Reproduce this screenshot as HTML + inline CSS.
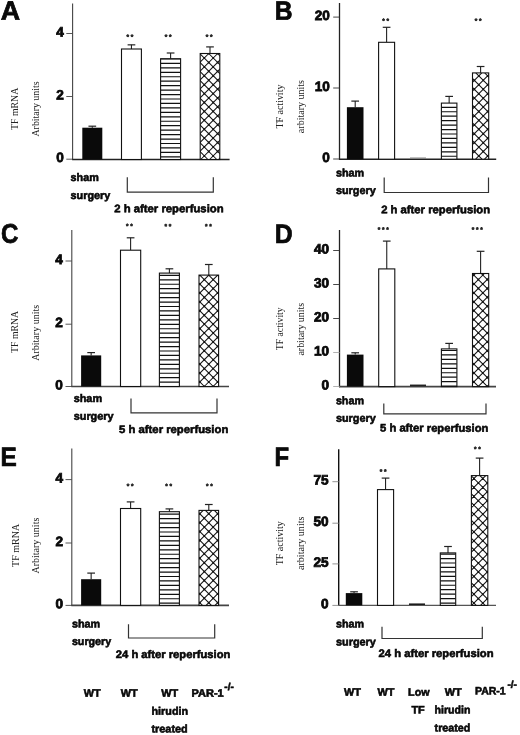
<!DOCTYPE html>
<html><head><meta charset="utf-8"><title>Figure</title>
<style>html,body{margin:0;padding:0;background:#fff}svg{display:block}</style>
</head><body>
<svg width="520" height="735" viewBox="0 0 520 735">
<defs>

<clipPath id="c1"><rect x="160.6" y="58.7" width="20" height="100.8"/></clipPath>
<clipPath id="c2"><rect x="200.2" y="53.5" width="19.6" height="106"/></clipPath>
<clipPath id="c3"><rect x="441.4" y="103.1" width="15.5" height="56.1"/></clipPath>
<clipPath id="c4"><rect x="472.5" y="72.9" width="16.2" height="86.3"/></clipPath>
<clipPath id="c5"><rect x="159.4" y="273.1" width="20" height="113.4"/></clipPath>
<clipPath id="c6"><rect x="199" y="275.1" width="19.6" height="111.4"/></clipPath>
<clipPath id="c7"><rect x="441.4" y="348.9" width="15.5" height="37.7"/></clipPath>
<clipPath id="c8"><rect x="472.5" y="273.5" width="16.2" height="113.1"/></clipPath>
<clipPath id="c9"><rect x="159.4" y="511.7" width="20" height="93.7"/></clipPath>
<clipPath id="c10"><rect x="199" y="510.4" width="19.6" height="95"/></clipPath>
<clipPath id="c11"><rect x="440.3" y="552.9" width="15.4" height="52.5"/></clipPath>
<clipPath id="c12"><rect x="471.4" y="475.6" width="16.4" height="129.8"/></clipPath>
</defs>
<rect width="520" height="735" fill="#fff"/>
<g fill="#0a0a0a" >
<text x="0.8" y="19.8" transform="rotate(0.04 0.8 19.8)" font-size="26.8" text-anchor="start" font-weight="bold" font-family="Liberation Sans, sans-serif" stroke="#000" stroke-width="0.7"  >A</text>
<line x1="72.6" y1="3.4" x2="72.6" y2="160.1" stroke="#444" stroke-width="1.1"/>
<line x1="72.1" y1="159.5" x2="229.6" y2="159.5" stroke="#222" stroke-width="1.5"/>
<line x1="66.3" y1="33.5" x2="72.6" y2="33.5" stroke="#444" stroke-width="0.9"/>
<text x="63.8" y="36.4" transform="rotate(0.04 63.8 36.4)" font-size="13.6" text-anchor="end" font-weight="bold" font-family="Liberation Sans, sans-serif" stroke="#000" stroke-width="0.75"  >4</text>
<line x1="66.3" y1="96.5" x2="72.6" y2="96.5" stroke="#444" stroke-width="0.9"/>
<text x="63.8" y="99.4" transform="rotate(0.04 63.8 99.4)" font-size="13.6" text-anchor="end" font-weight="bold" font-family="Liberation Sans, sans-serif" stroke="#000" stroke-width="0.75"  >2</text>
<line x1="66.3" y1="159.2" x2="72.6" y2="159.2" stroke="#444" stroke-width="0.9"/>
<text x="63.8" y="162.1" transform="rotate(0.04 63.8 162.1)" font-size="13.6" text-anchor="end" font-weight="bold" font-family="Liberation Sans, sans-serif" stroke="#000" stroke-width="0.75"  >0</text>
<line x1="92.3" y1="127.7" x2="92.3" y2="126.2" stroke="#222" stroke-width="1.1"/>
<line x1="88.45" y1="126.2" x2="96.15" y2="126.2" stroke="#222" stroke-width="1.2"/>
<rect x="82.3" y="127.7" width="20" height="31.8" fill="#0a0a0a"/>
<line x1="131.45" y1="49" x2="131.45" y2="44.85" stroke="#222" stroke-width="1.1"/>
<line x1="127.6" y1="44.85" x2="135.3" y2="44.85" stroke="#222" stroke-width="1.2"/>
<rect x="121.5" y="49" width="19.9" height="110.5" fill="#fff" stroke="#111" stroke-width="1.1"/>
<line x1="170.6" y1="58.7" x2="170.6" y2="53" stroke="#222" stroke-width="1.1"/>
<line x1="166.75" y1="53" x2="174.45" y2="53" stroke="#222" stroke-width="1.2"/>
<rect x="160.6" y="58.7" width="20" height="100.8" fill="#fff" stroke="#111" stroke-width="1.1"/>
<path clip-path="url(#c1)" d="M160.6,58.95H180.6M160.6,63.4H180.6M160.6,67.85H180.6M160.6,72.3H180.6M160.6,76.75H180.6M160.6,81.2H180.6M160.6,85.65H180.6M160.6,90.1H180.6M160.6,94.55H180.6M160.6,99H180.6M160.6,103.45H180.6M160.6,107.9H180.6M160.6,112.35H180.6M160.6,116.8H180.6M160.6,121.25H180.6M160.6,125.7H180.6M160.6,130.15H180.6M160.6,134.6H180.6M160.6,139.05H180.6M160.6,143.5H180.6M160.6,147.95H180.6M160.6,152.4H180.6M160.6,156.85H180.6" stroke="#111" stroke-width="1.2" fill="none"/>
<line x1="210" y1="53.5" x2="210" y2="46.9" stroke="#222" stroke-width="1.1"/>
<line x1="206.15" y1="46.9" x2="213.85" y2="46.9" stroke="#222" stroke-width="1.2"/>
<rect x="200.2" y="53.5" width="19.6" height="106" fill="#fff" stroke="#111" stroke-width="1.1"/>
<path clip-path="url(#c2)" d="M93,53.5L199,159.5M101.9,53.5L207.9,159.5M110.8,53.5L216.8,159.5M119.7,53.5L225.7,159.5M128.6,53.5L234.6,159.5M137.5,53.5L243.5,159.5M146.4,53.5L252.4,159.5M155.3,53.5L261.3,159.5M164.2,53.5L270.2,159.5M173.1,53.5L279.1,159.5M182,53.5L288,159.5M190.9,53.5L296.9,159.5M199.8,53.5L305.8,159.5M208.7,53.5L314.7,159.5M217.6,53.5L323.6,159.5M226.5,53.5L332.5,159.5M199.9,53.5L93.9,159.5M208.8,53.5L102.8,159.5M217.7,53.5L111.7,159.5M226.6,53.5L120.6,159.5M235.5,53.5L129.5,159.5M244.4,53.5L138.4,159.5M253.3,53.5L147.3,159.5M262.2,53.5L156.2,159.5M271.1,53.5L165.1,159.5M280,53.5L174,159.5M288.9,53.5L182.9,159.5M297.8,53.5L191.8,159.5M306.7,53.5L200.7,159.5M315.6,53.5L209.6,159.5M324.5,53.5L218.5,159.5M333.4,53.5L227.4,159.5" stroke="#111" stroke-width="1.05" fill="none"/>
<path clip-path="url(#c2)" d="M198.9,53.55a0.95,0.95 0 1,0 1.9,0a0.95,0.95 0 1,0 -1.9,0M198.9,62.45a0.95,0.95 0 1,0 1.9,0a0.95,0.95 0 1,0 -1.9,0M198.9,71.35a0.95,0.95 0 1,0 1.9,0a0.95,0.95 0 1,0 -1.9,0M198.9,80.25a0.95,0.95 0 1,0 1.9,0a0.95,0.95 0 1,0 -1.9,0M198.9,89.15a0.95,0.95 0 1,0 1.9,0a0.95,0.95 0 1,0 -1.9,0M198.9,98.05a0.95,0.95 0 1,0 1.9,0a0.95,0.95 0 1,0 -1.9,0M198.9,106.95a0.95,0.95 0 1,0 1.9,0a0.95,0.95 0 1,0 -1.9,0M198.9,115.85a0.95,0.95 0 1,0 1.9,0a0.95,0.95 0 1,0 -1.9,0M198.9,124.75a0.95,0.95 0 1,0 1.9,0a0.95,0.95 0 1,0 -1.9,0M198.9,133.65a0.95,0.95 0 1,0 1.9,0a0.95,0.95 0 1,0 -1.9,0M198.9,142.55a0.95,0.95 0 1,0 1.9,0a0.95,0.95 0 1,0 -1.9,0M198.9,151.45a0.95,0.95 0 1,0 1.9,0a0.95,0.95 0 1,0 -1.9,0M203.35,58a0.95,0.95 0 1,0 1.9,0a0.95,0.95 0 1,0 -1.9,0M203.35,66.9a0.95,0.95 0 1,0 1.9,0a0.95,0.95 0 1,0 -1.9,0M203.35,75.8a0.95,0.95 0 1,0 1.9,0a0.95,0.95 0 1,0 -1.9,0M203.35,84.7a0.95,0.95 0 1,0 1.9,0a0.95,0.95 0 1,0 -1.9,0M203.35,93.6a0.95,0.95 0 1,0 1.9,0a0.95,0.95 0 1,0 -1.9,0M203.35,102.5a0.95,0.95 0 1,0 1.9,0a0.95,0.95 0 1,0 -1.9,0M203.35,111.4a0.95,0.95 0 1,0 1.9,0a0.95,0.95 0 1,0 -1.9,0M203.35,120.3a0.95,0.95 0 1,0 1.9,0a0.95,0.95 0 1,0 -1.9,0M203.35,129.2a0.95,0.95 0 1,0 1.9,0a0.95,0.95 0 1,0 -1.9,0M203.35,138.1a0.95,0.95 0 1,0 1.9,0a0.95,0.95 0 1,0 -1.9,0M203.35,147a0.95,0.95 0 1,0 1.9,0a0.95,0.95 0 1,0 -1.9,0M203.35,155.9a0.95,0.95 0 1,0 1.9,0a0.95,0.95 0 1,0 -1.9,0M207.8,53.55a0.95,0.95 0 1,0 1.9,0a0.95,0.95 0 1,0 -1.9,0M207.8,62.45a0.95,0.95 0 1,0 1.9,0a0.95,0.95 0 1,0 -1.9,0M207.8,71.35a0.95,0.95 0 1,0 1.9,0a0.95,0.95 0 1,0 -1.9,0M207.8,80.25a0.95,0.95 0 1,0 1.9,0a0.95,0.95 0 1,0 -1.9,0M207.8,89.15a0.95,0.95 0 1,0 1.9,0a0.95,0.95 0 1,0 -1.9,0M207.8,98.05a0.95,0.95 0 1,0 1.9,0a0.95,0.95 0 1,0 -1.9,0M207.8,106.95a0.95,0.95 0 1,0 1.9,0a0.95,0.95 0 1,0 -1.9,0M207.8,115.85a0.95,0.95 0 1,0 1.9,0a0.95,0.95 0 1,0 -1.9,0M207.8,124.75a0.95,0.95 0 1,0 1.9,0a0.95,0.95 0 1,0 -1.9,0M207.8,133.65a0.95,0.95 0 1,0 1.9,0a0.95,0.95 0 1,0 -1.9,0M207.8,142.55a0.95,0.95 0 1,0 1.9,0a0.95,0.95 0 1,0 -1.9,0M207.8,151.45a0.95,0.95 0 1,0 1.9,0a0.95,0.95 0 1,0 -1.9,0M212.25,58a0.95,0.95 0 1,0 1.9,0a0.95,0.95 0 1,0 -1.9,0M212.25,66.9a0.95,0.95 0 1,0 1.9,0a0.95,0.95 0 1,0 -1.9,0M212.25,75.8a0.95,0.95 0 1,0 1.9,0a0.95,0.95 0 1,0 -1.9,0M212.25,84.7a0.95,0.95 0 1,0 1.9,0a0.95,0.95 0 1,0 -1.9,0M212.25,93.6a0.95,0.95 0 1,0 1.9,0a0.95,0.95 0 1,0 -1.9,0M212.25,102.5a0.95,0.95 0 1,0 1.9,0a0.95,0.95 0 1,0 -1.9,0M212.25,111.4a0.95,0.95 0 1,0 1.9,0a0.95,0.95 0 1,0 -1.9,0M212.25,120.3a0.95,0.95 0 1,0 1.9,0a0.95,0.95 0 1,0 -1.9,0M212.25,129.2a0.95,0.95 0 1,0 1.9,0a0.95,0.95 0 1,0 -1.9,0M212.25,138.1a0.95,0.95 0 1,0 1.9,0a0.95,0.95 0 1,0 -1.9,0M212.25,147a0.95,0.95 0 1,0 1.9,0a0.95,0.95 0 1,0 -1.9,0M212.25,155.9a0.95,0.95 0 1,0 1.9,0a0.95,0.95 0 1,0 -1.9,0M216.7,53.55a0.95,0.95 0 1,0 1.9,0a0.95,0.95 0 1,0 -1.9,0M216.7,62.45a0.95,0.95 0 1,0 1.9,0a0.95,0.95 0 1,0 -1.9,0M216.7,71.35a0.95,0.95 0 1,0 1.9,0a0.95,0.95 0 1,0 -1.9,0M216.7,80.25a0.95,0.95 0 1,0 1.9,0a0.95,0.95 0 1,0 -1.9,0M216.7,89.15a0.95,0.95 0 1,0 1.9,0a0.95,0.95 0 1,0 -1.9,0M216.7,98.05a0.95,0.95 0 1,0 1.9,0a0.95,0.95 0 1,0 -1.9,0M216.7,106.95a0.95,0.95 0 1,0 1.9,0a0.95,0.95 0 1,0 -1.9,0M216.7,115.85a0.95,0.95 0 1,0 1.9,0a0.95,0.95 0 1,0 -1.9,0M216.7,124.75a0.95,0.95 0 1,0 1.9,0a0.95,0.95 0 1,0 -1.9,0M216.7,133.65a0.95,0.95 0 1,0 1.9,0a0.95,0.95 0 1,0 -1.9,0M216.7,142.55a0.95,0.95 0 1,0 1.9,0a0.95,0.95 0 1,0 -1.9,0M216.7,151.45a0.95,0.95 0 1,0 1.9,0a0.95,0.95 0 1,0 -1.9,0" fill="#111"/>
<text x="130.88" y="39.05" transform="rotate(0.04 130.88 39.05)" font-size="6.5" text-anchor="middle" font-weight="bold" font-family="Liberation Sans, sans-serif" fill="#222" stroke="#222" stroke-width="0.5" letter-spacing="1.75">**</text>
<text x="169.07" y="38.95" transform="rotate(0.04 169.07 38.95)" font-size="6.5" text-anchor="middle" font-weight="bold" font-family="Liberation Sans, sans-serif" fill="#222" stroke="#222" stroke-width="0.5" letter-spacing="1.75">**</text>
<text x="210.07" y="38.95" transform="rotate(0.04 210.07 38.95)" font-size="6.5" text-anchor="middle" font-weight="bold" font-family="Liberation Sans, sans-serif" fill="#222" stroke="#222" stroke-width="0.5" letter-spacing="1.75">**</text>
<text x="70.6" y="180.9" transform="rotate(0.04 70.6 180.9)" font-size="10.9" text-anchor="start" font-weight="bold" font-family="Liberation Sans, sans-serif" stroke="#000" stroke-width="0.55" textLength="28.2" lengthAdjust="spacingAndGlyphs" >sham</text>
<text x="70.6" y="198.9" transform="rotate(0.04 70.6 198.9)" font-size="10.9" text-anchor="start" font-weight="bold" font-family="Liberation Sans, sans-serif" stroke="#000" stroke-width="0.55" textLength="39.7" lengthAdjust="spacingAndGlyphs" >surgery</text>
<polyline points="127.3,177.3 127.3,192.2 213.3,192.2 213.3,177.3" fill="none" stroke="#333" stroke-width="1.2"/>
<text x="114.3" y="212.3" transform="rotate(0.04 114.3 212.3)" font-size="10.9" text-anchor="start" font-weight="bold" font-family="Liberation Sans, sans-serif" stroke="#000" stroke-width="0.55" textLength="109.3" lengthAdjust="spacingAndGlyphs" >2 h after reperfusion</text>
<text transform="translate(17.8,108.9) rotate(-90)" font-size="9.9" text-anchor="middle" font-family="Liberation Serif, serif" fill="#222" textLength="42.3" lengthAdjust="spacingAndGlyphs">TF mRNA</text>
<text transform="translate(38.5,109) rotate(-90)" font-size="9.9" text-anchor="middle" font-family="Liberation Serif, serif" fill="#222" textLength="55" lengthAdjust="spacingAndGlyphs">Arbitary units</text>
<text x="274.7" y="19.8" transform="rotate(0.04 274.7 19.8)" font-size="26.5" text-anchor="start" font-weight="bold" font-family="Liberation Sans, sans-serif" stroke="#000" stroke-width="0.7" textLength="17.8" lengthAdjust="spacingAndGlyphs" >B</text>
<line x1="339.5" y1="3" x2="339.5" y2="159.8" stroke="#222" stroke-width="1.3"/>
<line x1="339" y1="159.2" x2="496.2" y2="159.2" stroke="#222" stroke-width="1.5"/>
<line x1="333.2" y1="17.1" x2="339.5" y2="17.1" stroke="#333" stroke-width="0.9"/>
<text x="329.9" y="20" transform="rotate(0.04 329.9 20)" font-size="13.6" text-anchor="end" font-weight="bold" font-family="Liberation Sans, sans-serif" stroke="#000" stroke-width="0.75"  >20</text>
<line x1="333.2" y1="88" x2="339.5" y2="88" stroke="#333" stroke-width="0.9"/>
<text x="329.9" y="90.9" transform="rotate(0.04 329.9 90.9)" font-size="13.6" text-anchor="end" font-weight="bold" font-family="Liberation Sans, sans-serif" stroke="#000" stroke-width="0.75"  >10</text>
<line x1="333.2" y1="159" x2="339.5" y2="159" stroke="#333" stroke-width="0.9"/>
<text x="329.9" y="161.9" transform="rotate(0.04 329.9 161.9)" font-size="13.6" text-anchor="end" font-weight="bold" font-family="Liberation Sans, sans-serif" stroke="#000" stroke-width="0.75"  >0</text>
<line x1="355.2" y1="107.2" x2="355.2" y2="101.1" stroke="#222" stroke-width="1.1"/>
<line x1="351.35" y1="101.1" x2="359.05" y2="101.1" stroke="#222" stroke-width="1.2"/>
<rect x="346.9" y="107.2" width="16.6" height="52" fill="#0a0a0a"/>
<line x1="386.6" y1="42.3" x2="386.6" y2="27.3" stroke="#222" stroke-width="1.1"/>
<line x1="382.75" y1="27.3" x2="390.45" y2="27.3" stroke="#222" stroke-width="1.2"/>
<rect x="378.6" y="42.3" width="16" height="116.9" fill="#fff" stroke="#111" stroke-width="1.1"/>
<line x1="410" y1="158" x2="426" y2="158" stroke="#777" stroke-width="0.9"/>
<line x1="449.15" y1="103.1" x2="449.15" y2="96.4" stroke="#222" stroke-width="1.1"/>
<line x1="445.3" y1="96.4" x2="453" y2="96.4" stroke="#222" stroke-width="1.2"/>
<rect x="441.4" y="103.1" width="15.5" height="56.1" fill="#fff" stroke="#111" stroke-width="1.1"/>
<path clip-path="url(#c3)" d="M441.4,107.3H456.9M441.4,111.75H456.9M441.4,116.2H456.9M441.4,120.65H456.9M441.4,125.1H456.9M441.4,129.55H456.9M441.4,134H456.9M441.4,138.45H456.9M441.4,142.9H456.9M441.4,147.35H456.9M441.4,151.8H456.9M441.4,156.25H456.9" stroke="#111" stroke-width="1.2" fill="none"/>
<line x1="480.6" y1="72.9" x2="480.6" y2="66.5" stroke="#222" stroke-width="1.1"/>
<line x1="476.75" y1="66.5" x2="484.45" y2="66.5" stroke="#222" stroke-width="1.2"/>
<rect x="472.5" y="72.9" width="16.2" height="86.3" fill="#fff" stroke="#111" stroke-width="1.1"/>
<path clip-path="url(#c4)" d="M377.9,72.9L464.2,159.2M386.8,72.9L473.1,159.2M395.7,72.9L482,159.2M404.6,72.9L490.9,159.2M413.5,72.9L499.8,159.2M422.4,72.9L508.7,159.2M431.3,72.9L517.6,159.2M440.2,72.9L526.5,159.2M449.1,72.9L535.4,159.2M458,72.9L544.3,159.2M466.9,72.9L553.2,159.2M475.8,72.9L562.1,159.2M484.7,72.9L571,159.2M493.6,72.9L579.9,159.2M464,72.9L377.7,159.2M472.9,72.9L386.6,159.2M481.8,72.9L395.5,159.2M490.7,72.9L404.4,159.2M499.6,72.9L413.3,159.2M508.5,72.9L422.2,159.2M517.4,72.9L431.1,159.2M526.3,72.9L440,159.2M535.2,72.9L448.9,159.2M544.1,72.9L457.8,159.2M553,72.9L466.7,159.2M561.9,72.9L475.6,159.2M570.8,72.9L484.5,159.2M579.7,72.9L493.4,159.2" stroke="#111" stroke-width="1.05" fill="none"/>
<path clip-path="url(#c4)" d="M473.4,80.35a0.95,0.95 0 1,0 1.9,0a0.95,0.95 0 1,0 -1.9,0M473.4,89.25a0.95,0.95 0 1,0 1.9,0a0.95,0.95 0 1,0 -1.9,0M473.4,98.15a0.95,0.95 0 1,0 1.9,0a0.95,0.95 0 1,0 -1.9,0M473.4,107.05a0.95,0.95 0 1,0 1.9,0a0.95,0.95 0 1,0 -1.9,0M473.4,115.95a0.95,0.95 0 1,0 1.9,0a0.95,0.95 0 1,0 -1.9,0M473.4,124.85a0.95,0.95 0 1,0 1.9,0a0.95,0.95 0 1,0 -1.9,0M473.4,133.75a0.95,0.95 0 1,0 1.9,0a0.95,0.95 0 1,0 -1.9,0M473.4,142.65a0.95,0.95 0 1,0 1.9,0a0.95,0.95 0 1,0 -1.9,0M473.4,151.55a0.95,0.95 0 1,0 1.9,0a0.95,0.95 0 1,0 -1.9,0M477.85,75.9a0.95,0.95 0 1,0 1.9,0a0.95,0.95 0 1,0 -1.9,0M477.85,84.8a0.95,0.95 0 1,0 1.9,0a0.95,0.95 0 1,0 -1.9,0M477.85,93.7a0.95,0.95 0 1,0 1.9,0a0.95,0.95 0 1,0 -1.9,0M477.85,102.6a0.95,0.95 0 1,0 1.9,0a0.95,0.95 0 1,0 -1.9,0M477.85,111.5a0.95,0.95 0 1,0 1.9,0a0.95,0.95 0 1,0 -1.9,0M477.85,120.4a0.95,0.95 0 1,0 1.9,0a0.95,0.95 0 1,0 -1.9,0M477.85,129.3a0.95,0.95 0 1,0 1.9,0a0.95,0.95 0 1,0 -1.9,0M477.85,138.2a0.95,0.95 0 1,0 1.9,0a0.95,0.95 0 1,0 -1.9,0M477.85,147.1a0.95,0.95 0 1,0 1.9,0a0.95,0.95 0 1,0 -1.9,0M477.85,156a0.95,0.95 0 1,0 1.9,0a0.95,0.95 0 1,0 -1.9,0M482.3,80.35a0.95,0.95 0 1,0 1.9,0a0.95,0.95 0 1,0 -1.9,0M482.3,89.25a0.95,0.95 0 1,0 1.9,0a0.95,0.95 0 1,0 -1.9,0M482.3,98.15a0.95,0.95 0 1,0 1.9,0a0.95,0.95 0 1,0 -1.9,0M482.3,107.05a0.95,0.95 0 1,0 1.9,0a0.95,0.95 0 1,0 -1.9,0M482.3,115.95a0.95,0.95 0 1,0 1.9,0a0.95,0.95 0 1,0 -1.9,0M482.3,124.85a0.95,0.95 0 1,0 1.9,0a0.95,0.95 0 1,0 -1.9,0M482.3,133.75a0.95,0.95 0 1,0 1.9,0a0.95,0.95 0 1,0 -1.9,0M482.3,142.65a0.95,0.95 0 1,0 1.9,0a0.95,0.95 0 1,0 -1.9,0M482.3,151.55a0.95,0.95 0 1,0 1.9,0a0.95,0.95 0 1,0 -1.9,0M486.75,75.9a0.95,0.95 0 1,0 1.9,0a0.95,0.95 0 1,0 -1.9,0M486.75,84.8a0.95,0.95 0 1,0 1.9,0a0.95,0.95 0 1,0 -1.9,0M486.75,93.7a0.95,0.95 0 1,0 1.9,0a0.95,0.95 0 1,0 -1.9,0M486.75,102.6a0.95,0.95 0 1,0 1.9,0a0.95,0.95 0 1,0 -1.9,0M486.75,111.5a0.95,0.95 0 1,0 1.9,0a0.95,0.95 0 1,0 -1.9,0M486.75,120.4a0.95,0.95 0 1,0 1.9,0a0.95,0.95 0 1,0 -1.9,0M486.75,129.3a0.95,0.95 0 1,0 1.9,0a0.95,0.95 0 1,0 -1.9,0M486.75,138.2a0.95,0.95 0 1,0 1.9,0a0.95,0.95 0 1,0 -1.9,0M486.75,147.1a0.95,0.95 0 1,0 1.9,0a0.95,0.95 0 1,0 -1.9,0M486.75,156a0.95,0.95 0 1,0 1.9,0a0.95,0.95 0 1,0 -1.9,0" fill="#111"/>
<text x="386.48" y="23.05" transform="rotate(0.04 386.48 23.05)" font-size="6.5" text-anchor="middle" font-weight="bold" font-family="Liberation Sans, sans-serif" fill="#222" stroke="#222" stroke-width="0.5" letter-spacing="1.75">**</text>
<text x="478.98" y="23.05" transform="rotate(0.04 478.98 23.05)" font-size="6.5" text-anchor="middle" font-weight="bold" font-family="Liberation Sans, sans-serif" fill="#222" stroke="#222" stroke-width="0.5" letter-spacing="1.75">**</text>
<text x="335.9" y="176.5" transform="rotate(0.04 335.9 176.5)" font-size="10.9" text-anchor="start" font-weight="bold" font-family="Liberation Sans, sans-serif" stroke="#000" stroke-width="0.55" textLength="28.2" lengthAdjust="spacingAndGlyphs" >sham</text>
<text x="335.9" y="194.1" transform="rotate(0.04 335.9 194.1)" font-size="10.9" text-anchor="start" font-weight="bold" font-family="Liberation Sans, sans-serif" stroke="#000" stroke-width="0.55" textLength="39.8" lengthAdjust="spacingAndGlyphs" >surgery</text>
<polyline points="384.2,177.5 384.2,192.5 488.5,192.5 488.5,177.5" fill="none" stroke="#333" stroke-width="1.2"/>
<text x="381.2" y="213.3" transform="rotate(0.04 381.2 213.3)" font-size="10.9" text-anchor="start" font-weight="bold" font-family="Liberation Sans, sans-serif" stroke="#000" stroke-width="0.55" textLength="108.9" lengthAdjust="spacingAndGlyphs" >2 h after reperfusion</text>
<text transform="translate(283.2,106.6) rotate(-90)" font-size="9.9" text-anchor="middle" font-family="Liberation Serif, serif" fill="#222" textLength="43.9" lengthAdjust="spacingAndGlyphs">TF activity</text>
<text transform="translate(303.6,106.6) rotate(-90)" font-size="9.9" text-anchor="middle" font-family="Liberation Serif, serif" fill="#222" textLength="53.1" lengthAdjust="spacingAndGlyphs">arbitary units</text>
<text x="1" y="242.8" transform="rotate(0.04 1 242.8)" font-size="27" text-anchor="start" font-weight="bold" font-family="Liberation Sans, sans-serif" stroke="#000" stroke-width="0.7" textLength="17.4" lengthAdjust="spacingAndGlyphs" >C</text>
<line x1="71.8" y1="230" x2="71.8" y2="387.1" stroke="#444" stroke-width="1.1"/>
<line x1="71.3" y1="386.5" x2="229" y2="386.5" stroke="#444" stroke-width="1.6"/>
<line x1="65.5" y1="261" x2="71.8" y2="261" stroke="#444" stroke-width="0.9"/>
<text x="62.7" y="263.9" transform="rotate(0.04 62.7 263.9)" font-size="13.6" text-anchor="end" font-weight="bold" font-family="Liberation Sans, sans-serif" stroke="#000" stroke-width="0.75"  >4</text>
<line x1="65.5" y1="324.2" x2="71.8" y2="324.2" stroke="#444" stroke-width="0.9"/>
<text x="62.7" y="327.1" transform="rotate(0.04 62.7 327.1)" font-size="13.6" text-anchor="end" font-weight="bold" font-family="Liberation Sans, sans-serif" stroke="#000" stroke-width="0.75"  >2</text>
<line x1="65.5" y1="386.5" x2="71.8" y2="386.5" stroke="#444" stroke-width="0.9"/>
<text x="62.7" y="389.4" transform="rotate(0.04 62.7 389.4)" font-size="13.6" text-anchor="end" font-weight="bold" font-family="Liberation Sans, sans-serif" stroke="#000" stroke-width="0.75"  >0</text>
<line x1="91.15" y1="355.4" x2="91.15" y2="352.6" stroke="#222" stroke-width="1.1"/>
<line x1="87.3" y1="352.6" x2="95" y2="352.6" stroke="#222" stroke-width="1.2"/>
<rect x="81.1" y="355.4" width="20.1" height="31.1" fill="#0a0a0a"/>
<line x1="130.6" y1="250.2" x2="130.6" y2="237.8" stroke="#222" stroke-width="1.1"/>
<line x1="126.75" y1="237.8" x2="134.45" y2="237.8" stroke="#222" stroke-width="1.2"/>
<rect x="120.5" y="250.2" width="20.2" height="136.3" fill="#fff" stroke="#111" stroke-width="1.1"/>
<line x1="169.4" y1="273.1" x2="169.4" y2="268.8" stroke="#222" stroke-width="1.1"/>
<line x1="165.55" y1="268.8" x2="173.25" y2="268.8" stroke="#222" stroke-width="1.2"/>
<rect x="159.4" y="273.1" width="20" height="113.4" fill="#fff" stroke="#111" stroke-width="1.1"/>
<path clip-path="url(#c5)" d="M159.4,275.35H179.4M159.4,279.8H179.4M159.4,284.25H179.4M159.4,288.7H179.4M159.4,293.15H179.4M159.4,297.6H179.4M159.4,302.05H179.4M159.4,306.5H179.4M159.4,310.95H179.4M159.4,315.4H179.4M159.4,319.85H179.4M159.4,324.3H179.4M159.4,328.75H179.4M159.4,333.2H179.4M159.4,337.65H179.4M159.4,342.1H179.4M159.4,346.55H179.4M159.4,351H179.4M159.4,355.45H179.4M159.4,359.9H179.4M159.4,364.35H179.4M159.4,368.8H179.4M159.4,373.25H179.4M159.4,377.7H179.4M159.4,382.15H179.4" stroke="#111" stroke-width="1.2" fill="none"/>
<line x1="208.8" y1="275.1" x2="208.8" y2="264.5" stroke="#222" stroke-width="1.1"/>
<line x1="204.95" y1="264.5" x2="212.65" y2="264.5" stroke="#222" stroke-width="1.2"/>
<rect x="199" y="275.1" width="19.6" height="111.4" fill="#fff" stroke="#111" stroke-width="1.1"/>
<path clip-path="url(#c6)" d="M84.1,275.1L195.5,386.5M93,275.1L204.4,386.5M101.9,275.1L213.3,386.5M110.8,275.1L222.2,386.5M119.7,275.1L231.1,386.5M128.6,275.1L240,386.5M137.5,275.1L248.9,386.5M146.4,275.1L257.8,386.5M155.3,275.1L266.7,386.5M164.2,275.1L275.6,386.5M173.1,275.1L284.5,386.5M182,275.1L293.4,386.5M190.9,275.1L302.3,386.5M199.8,275.1L311.2,386.5M208.7,275.1L320.1,386.5M217.6,275.1L329,386.5M226.5,275.1L337.9,386.5M191,275.1L79.6,386.5M199.9,275.1L88.5,386.5M208.8,275.1L97.4,386.5M217.7,275.1L106.3,386.5M226.6,275.1L115.2,386.5M235.5,275.1L124.1,386.5M244.4,275.1L133,386.5M253.3,275.1L141.9,386.5M262.2,275.1L150.8,386.5M271.1,275.1L159.7,386.5M280,275.1L168.6,386.5M288.9,275.1L177.5,386.5M297.8,275.1L186.4,386.5M306.7,275.1L195.3,386.5M315.6,275.1L204.2,386.5M324.5,275.1L213.1,386.5M333.4,275.1L222,386.5" stroke="#111" stroke-width="1.05" fill="none"/>
<path clip-path="url(#c6)" d="M198.9,275.15a0.95,0.95 0 1,0 1.9,0a0.95,0.95 0 1,0 -1.9,0M198.9,284.05a0.95,0.95 0 1,0 1.9,0a0.95,0.95 0 1,0 -1.9,0M198.9,292.95a0.95,0.95 0 1,0 1.9,0a0.95,0.95 0 1,0 -1.9,0M198.9,301.85a0.95,0.95 0 1,0 1.9,0a0.95,0.95 0 1,0 -1.9,0M198.9,310.75a0.95,0.95 0 1,0 1.9,0a0.95,0.95 0 1,0 -1.9,0M198.9,319.65a0.95,0.95 0 1,0 1.9,0a0.95,0.95 0 1,0 -1.9,0M198.9,328.55a0.95,0.95 0 1,0 1.9,0a0.95,0.95 0 1,0 -1.9,0M198.9,337.45a0.95,0.95 0 1,0 1.9,0a0.95,0.95 0 1,0 -1.9,0M198.9,346.35a0.95,0.95 0 1,0 1.9,0a0.95,0.95 0 1,0 -1.9,0M198.9,355.25a0.95,0.95 0 1,0 1.9,0a0.95,0.95 0 1,0 -1.9,0M198.9,364.15a0.95,0.95 0 1,0 1.9,0a0.95,0.95 0 1,0 -1.9,0M198.9,373.05a0.95,0.95 0 1,0 1.9,0a0.95,0.95 0 1,0 -1.9,0M198.9,381.95a0.95,0.95 0 1,0 1.9,0a0.95,0.95 0 1,0 -1.9,0M203.35,279.6a0.95,0.95 0 1,0 1.9,0a0.95,0.95 0 1,0 -1.9,0M203.35,288.5a0.95,0.95 0 1,0 1.9,0a0.95,0.95 0 1,0 -1.9,0M203.35,297.4a0.95,0.95 0 1,0 1.9,0a0.95,0.95 0 1,0 -1.9,0M203.35,306.3a0.95,0.95 0 1,0 1.9,0a0.95,0.95 0 1,0 -1.9,0M203.35,315.2a0.95,0.95 0 1,0 1.9,0a0.95,0.95 0 1,0 -1.9,0M203.35,324.1a0.95,0.95 0 1,0 1.9,0a0.95,0.95 0 1,0 -1.9,0M203.35,333a0.95,0.95 0 1,0 1.9,0a0.95,0.95 0 1,0 -1.9,0M203.35,341.9a0.95,0.95 0 1,0 1.9,0a0.95,0.95 0 1,0 -1.9,0M203.35,350.8a0.95,0.95 0 1,0 1.9,0a0.95,0.95 0 1,0 -1.9,0M203.35,359.7a0.95,0.95 0 1,0 1.9,0a0.95,0.95 0 1,0 -1.9,0M203.35,368.6a0.95,0.95 0 1,0 1.9,0a0.95,0.95 0 1,0 -1.9,0M203.35,377.5a0.95,0.95 0 1,0 1.9,0a0.95,0.95 0 1,0 -1.9,0M203.35,386.4a0.95,0.95 0 1,0 1.9,0a0.95,0.95 0 1,0 -1.9,0M207.8,275.15a0.95,0.95 0 1,0 1.9,0a0.95,0.95 0 1,0 -1.9,0M207.8,284.05a0.95,0.95 0 1,0 1.9,0a0.95,0.95 0 1,0 -1.9,0M207.8,292.95a0.95,0.95 0 1,0 1.9,0a0.95,0.95 0 1,0 -1.9,0M207.8,301.85a0.95,0.95 0 1,0 1.9,0a0.95,0.95 0 1,0 -1.9,0M207.8,310.75a0.95,0.95 0 1,0 1.9,0a0.95,0.95 0 1,0 -1.9,0M207.8,319.65a0.95,0.95 0 1,0 1.9,0a0.95,0.95 0 1,0 -1.9,0M207.8,328.55a0.95,0.95 0 1,0 1.9,0a0.95,0.95 0 1,0 -1.9,0M207.8,337.45a0.95,0.95 0 1,0 1.9,0a0.95,0.95 0 1,0 -1.9,0M207.8,346.35a0.95,0.95 0 1,0 1.9,0a0.95,0.95 0 1,0 -1.9,0M207.8,355.25a0.95,0.95 0 1,0 1.9,0a0.95,0.95 0 1,0 -1.9,0M207.8,364.15a0.95,0.95 0 1,0 1.9,0a0.95,0.95 0 1,0 -1.9,0M207.8,373.05a0.95,0.95 0 1,0 1.9,0a0.95,0.95 0 1,0 -1.9,0M207.8,381.95a0.95,0.95 0 1,0 1.9,0a0.95,0.95 0 1,0 -1.9,0M212.25,279.6a0.95,0.95 0 1,0 1.9,0a0.95,0.95 0 1,0 -1.9,0M212.25,288.5a0.95,0.95 0 1,0 1.9,0a0.95,0.95 0 1,0 -1.9,0M212.25,297.4a0.95,0.95 0 1,0 1.9,0a0.95,0.95 0 1,0 -1.9,0M212.25,306.3a0.95,0.95 0 1,0 1.9,0a0.95,0.95 0 1,0 -1.9,0M212.25,315.2a0.95,0.95 0 1,0 1.9,0a0.95,0.95 0 1,0 -1.9,0M212.25,324.1a0.95,0.95 0 1,0 1.9,0a0.95,0.95 0 1,0 -1.9,0M212.25,333a0.95,0.95 0 1,0 1.9,0a0.95,0.95 0 1,0 -1.9,0M212.25,341.9a0.95,0.95 0 1,0 1.9,0a0.95,0.95 0 1,0 -1.9,0M212.25,350.8a0.95,0.95 0 1,0 1.9,0a0.95,0.95 0 1,0 -1.9,0M212.25,359.7a0.95,0.95 0 1,0 1.9,0a0.95,0.95 0 1,0 -1.9,0M212.25,368.6a0.95,0.95 0 1,0 1.9,0a0.95,0.95 0 1,0 -1.9,0M212.25,377.5a0.95,0.95 0 1,0 1.9,0a0.95,0.95 0 1,0 -1.9,0M212.25,386.4a0.95,0.95 0 1,0 1.9,0a0.95,0.95 0 1,0 -1.9,0M216.7,275.15a0.95,0.95 0 1,0 1.9,0a0.95,0.95 0 1,0 -1.9,0M216.7,284.05a0.95,0.95 0 1,0 1.9,0a0.95,0.95 0 1,0 -1.9,0M216.7,292.95a0.95,0.95 0 1,0 1.9,0a0.95,0.95 0 1,0 -1.9,0M216.7,301.85a0.95,0.95 0 1,0 1.9,0a0.95,0.95 0 1,0 -1.9,0M216.7,310.75a0.95,0.95 0 1,0 1.9,0a0.95,0.95 0 1,0 -1.9,0M216.7,319.65a0.95,0.95 0 1,0 1.9,0a0.95,0.95 0 1,0 -1.9,0M216.7,328.55a0.95,0.95 0 1,0 1.9,0a0.95,0.95 0 1,0 -1.9,0M216.7,337.45a0.95,0.95 0 1,0 1.9,0a0.95,0.95 0 1,0 -1.9,0M216.7,346.35a0.95,0.95 0 1,0 1.9,0a0.95,0.95 0 1,0 -1.9,0M216.7,355.25a0.95,0.95 0 1,0 1.9,0a0.95,0.95 0 1,0 -1.9,0M216.7,364.15a0.95,0.95 0 1,0 1.9,0a0.95,0.95 0 1,0 -1.9,0M216.7,373.05a0.95,0.95 0 1,0 1.9,0a0.95,0.95 0 1,0 -1.9,0M216.7,381.95a0.95,0.95 0 1,0 1.9,0a0.95,0.95 0 1,0 -1.9,0" fill="#111"/>
<text x="130.38" y="228.25" transform="rotate(0.04 130.38 228.25)" font-size="6.5" text-anchor="middle" font-weight="bold" font-family="Liberation Sans, sans-serif" fill="#222" stroke="#222" stroke-width="0.5" letter-spacing="1.75">**</text>
<text x="168.78" y="228.55" transform="rotate(0.04 168.78 228.55)" font-size="6.5" text-anchor="middle" font-weight="bold" font-family="Liberation Sans, sans-serif" fill="#222" stroke="#222" stroke-width="0.5" letter-spacing="1.75">**</text>
<text x="209.38" y="228.55" transform="rotate(0.04 209.38 228.55)" font-size="6.5" text-anchor="middle" font-weight="bold" font-family="Liberation Sans, sans-serif" fill="#222" stroke="#222" stroke-width="0.5" letter-spacing="1.75">**</text>
<text x="73.7" y="401.9" transform="rotate(0.04 73.7 401.9)" font-size="10.9" text-anchor="start" font-weight="bold" font-family="Liberation Sans, sans-serif" stroke="#000" stroke-width="0.55" textLength="28.4" lengthAdjust="spacingAndGlyphs" >sham</text>
<text x="73.7" y="419.7" transform="rotate(0.04 73.7 419.7)" font-size="10.9" text-anchor="start" font-weight="bold" font-family="Liberation Sans, sans-serif" stroke="#000" stroke-width="0.55" textLength="39.9" lengthAdjust="spacingAndGlyphs" >surgery</text>
<polyline points="131,398.4 131,412.9 217,412.9 217,398.4" fill="none" stroke="#333" stroke-width="1.2"/>
<text x="119.1" y="433" transform="rotate(0.04 119.1 433)" font-size="10.9" text-anchor="start" font-weight="bold" font-family="Liberation Sans, sans-serif" stroke="#000" stroke-width="0.55" textLength="109.2" lengthAdjust="spacingAndGlyphs" >5 h after reperfusion</text>
<text transform="translate(18.3,331.9) rotate(-90)" font-size="9.9" text-anchor="middle" font-family="Liberation Serif, serif" fill="#222" textLength="42.2" lengthAdjust="spacingAndGlyphs">TF mRNA</text>
<text transform="translate(39.2,332.8) rotate(-90)" font-size="9.9" text-anchor="middle" font-family="Liberation Serif, serif" fill="#222" textLength="56" lengthAdjust="spacingAndGlyphs">Arbitary units</text>
<text x="274.7" y="242.9" transform="rotate(0.04 274.7 242.9)" font-size="26.6" text-anchor="start" font-weight="bold" font-family="Liberation Sans, sans-serif" stroke="#000" stroke-width="0.7" textLength="17.9" lengthAdjust="spacingAndGlyphs" >D</text>
<line x1="339.5" y1="230" x2="339.5" y2="387.2" stroke="#222" stroke-width="1.3"/>
<line x1="339" y1="386.6" x2="496" y2="386.6" stroke="#444" stroke-width="1.6"/>
<line x1="333.2" y1="250.5" x2="339.5" y2="250.5" stroke="#333" stroke-width="0.9"/>
<text x="329.1" y="253.4" transform="rotate(0.04 329.1 253.4)" font-size="13.6" text-anchor="end" font-weight="bold" font-family="Liberation Sans, sans-serif" stroke="#000" stroke-width="0.75"  >40</text>
<line x1="333.2" y1="284.5" x2="339.5" y2="284.5" stroke="#333" stroke-width="0.9"/>
<text x="329.1" y="287.4" transform="rotate(0.04 329.1 287.4)" font-size="13.6" text-anchor="end" font-weight="bold" font-family="Liberation Sans, sans-serif" stroke="#000" stroke-width="0.75"  >30</text>
<line x1="333.2" y1="318.5" x2="339.5" y2="318.5" stroke="#333" stroke-width="0.9"/>
<text x="329.1" y="321.4" transform="rotate(0.04 329.1 321.4)" font-size="13.6" text-anchor="end" font-weight="bold" font-family="Liberation Sans, sans-serif" stroke="#000" stroke-width="0.75"  >20</text>
<line x1="333.2" y1="352.5" x2="339.5" y2="352.5" stroke="#aaa" stroke-width="0.9"/>
<text x="329.1" y="355.4" transform="rotate(0.04 329.1 355.4)" font-size="13.6" text-anchor="end" font-weight="bold" font-family="Liberation Sans, sans-serif" stroke="#000" stroke-width="0.75"  >10</text>
<line x1="333.2" y1="386.5" x2="339.5" y2="386.5" stroke="#aaa" stroke-width="0.9"/>
<text x="329.1" y="389.4" transform="rotate(0.04 329.1 389.4)" font-size="13.6" text-anchor="end" font-weight="bold" font-family="Liberation Sans, sans-serif" stroke="#000" stroke-width="0.75"  >0</text>
<line x1="355.2" y1="354.6" x2="355.2" y2="352.8" stroke="#222" stroke-width="1.1"/>
<line x1="351.35" y1="352.8" x2="359.05" y2="352.8" stroke="#222" stroke-width="1.2"/>
<rect x="346.9" y="354.6" width="16.6" height="32" fill="#0a0a0a"/>
<line x1="386.75" y1="268.9" x2="386.75" y2="241.1" stroke="#222" stroke-width="1.1"/>
<line x1="382.9" y1="241.1" x2="390.6" y2="241.1" stroke="#222" stroke-width="1.2"/>
<rect x="378.7" y="268.9" width="16.1" height="117.7" fill="#fff" stroke="#111" stroke-width="1.1"/>
<line x1="410" y1="385.4" x2="426" y2="385.4" stroke="#222" stroke-width="1.7"/>
<line x1="449.15" y1="348.9" x2="449.15" y2="343.4" stroke="#222" stroke-width="1.1"/>
<line x1="445.3" y1="343.4" x2="453" y2="343.4" stroke="#222" stroke-width="1.2"/>
<rect x="441.4" y="348.9" width="15.5" height="37.7" fill="#fff" stroke="#111" stroke-width="1.1"/>
<path clip-path="url(#c7)" d="M441.4,350.5H456.9M441.4,354.95H456.9M441.4,359.4H456.9M441.4,363.85H456.9M441.4,368.3H456.9M441.4,372.75H456.9M441.4,377.2H456.9M441.4,381.65H456.9M441.4,386.1H456.9" stroke="#111" stroke-width="1.2" fill="none"/>
<line x1="480.6" y1="273.5" x2="480.6" y2="251.3" stroke="#222" stroke-width="1.1"/>
<line x1="476.75" y1="251.3" x2="484.45" y2="251.3" stroke="#222" stroke-width="1.2"/>
<rect x="472.5" y="273.5" width="16.2" height="113.1" fill="#fff" stroke="#111" stroke-width="1.1"/>
<path clip-path="url(#c8)" d="M356.6,273.5L469.7,386.6M365.5,273.5L478.6,386.6M374.4,273.5L487.5,386.6M383.3,273.5L496.4,386.6M392.2,273.5L505.3,386.6M401.1,273.5L514.2,386.6M410,273.5L523.1,386.6M418.9,273.5L532,386.6M427.8,273.5L540.9,386.6M436.7,273.5L549.8,386.6M445.6,273.5L558.7,386.6M454.5,273.5L567.6,386.6M463.4,273.5L576.5,386.6M472.3,273.5L585.4,386.6M481.2,273.5L594.3,386.6M490.1,273.5L603.2,386.6M466.6,273.5L353.5,386.6M475.5,273.5L362.4,386.6M484.4,273.5L371.3,386.6M493.3,273.5L380.2,386.6M502.2,273.5L389.1,386.6M511.1,273.5L398,386.6M520,273.5L406.9,386.6M528.9,273.5L415.8,386.6M537.8,273.5L424.7,386.6M546.7,273.5L433.6,386.6M555.6,273.5L442.5,386.6M564.5,273.5L451.4,386.6M573.4,273.5L460.3,386.6M582.3,273.5L469.2,386.6M591.2,273.5L478.1,386.6M600.1,273.5L487,386.6M609,273.5L495.9,386.6" stroke="#111" stroke-width="1.05" fill="none"/>
<path clip-path="url(#c8)" d="M472.95,275.1a0.95,0.95 0 1,0 1.9,0a0.95,0.95 0 1,0 -1.9,0M472.95,284a0.95,0.95 0 1,0 1.9,0a0.95,0.95 0 1,0 -1.9,0M472.95,292.9a0.95,0.95 0 1,0 1.9,0a0.95,0.95 0 1,0 -1.9,0M472.95,301.8a0.95,0.95 0 1,0 1.9,0a0.95,0.95 0 1,0 -1.9,0M472.95,310.7a0.95,0.95 0 1,0 1.9,0a0.95,0.95 0 1,0 -1.9,0M472.95,319.6a0.95,0.95 0 1,0 1.9,0a0.95,0.95 0 1,0 -1.9,0M472.95,328.5a0.95,0.95 0 1,0 1.9,0a0.95,0.95 0 1,0 -1.9,0M472.95,337.4a0.95,0.95 0 1,0 1.9,0a0.95,0.95 0 1,0 -1.9,0M472.95,346.3a0.95,0.95 0 1,0 1.9,0a0.95,0.95 0 1,0 -1.9,0M472.95,355.2a0.95,0.95 0 1,0 1.9,0a0.95,0.95 0 1,0 -1.9,0M472.95,364.1a0.95,0.95 0 1,0 1.9,0a0.95,0.95 0 1,0 -1.9,0M472.95,373a0.95,0.95 0 1,0 1.9,0a0.95,0.95 0 1,0 -1.9,0M472.95,381.9a0.95,0.95 0 1,0 1.9,0a0.95,0.95 0 1,0 -1.9,0M477.4,279.55a0.95,0.95 0 1,0 1.9,0a0.95,0.95 0 1,0 -1.9,0M477.4,288.45a0.95,0.95 0 1,0 1.9,0a0.95,0.95 0 1,0 -1.9,0M477.4,297.35a0.95,0.95 0 1,0 1.9,0a0.95,0.95 0 1,0 -1.9,0M477.4,306.25a0.95,0.95 0 1,0 1.9,0a0.95,0.95 0 1,0 -1.9,0M477.4,315.15a0.95,0.95 0 1,0 1.9,0a0.95,0.95 0 1,0 -1.9,0M477.4,324.05a0.95,0.95 0 1,0 1.9,0a0.95,0.95 0 1,0 -1.9,0M477.4,332.95a0.95,0.95 0 1,0 1.9,0a0.95,0.95 0 1,0 -1.9,0M477.4,341.85a0.95,0.95 0 1,0 1.9,0a0.95,0.95 0 1,0 -1.9,0M477.4,350.75a0.95,0.95 0 1,0 1.9,0a0.95,0.95 0 1,0 -1.9,0M477.4,359.65a0.95,0.95 0 1,0 1.9,0a0.95,0.95 0 1,0 -1.9,0M477.4,368.55a0.95,0.95 0 1,0 1.9,0a0.95,0.95 0 1,0 -1.9,0M477.4,377.45a0.95,0.95 0 1,0 1.9,0a0.95,0.95 0 1,0 -1.9,0M477.4,386.35a0.95,0.95 0 1,0 1.9,0a0.95,0.95 0 1,0 -1.9,0M481.85,275.1a0.95,0.95 0 1,0 1.9,0a0.95,0.95 0 1,0 -1.9,0M481.85,284a0.95,0.95 0 1,0 1.9,0a0.95,0.95 0 1,0 -1.9,0M481.85,292.9a0.95,0.95 0 1,0 1.9,0a0.95,0.95 0 1,0 -1.9,0M481.85,301.8a0.95,0.95 0 1,0 1.9,0a0.95,0.95 0 1,0 -1.9,0M481.85,310.7a0.95,0.95 0 1,0 1.9,0a0.95,0.95 0 1,0 -1.9,0M481.85,319.6a0.95,0.95 0 1,0 1.9,0a0.95,0.95 0 1,0 -1.9,0M481.85,328.5a0.95,0.95 0 1,0 1.9,0a0.95,0.95 0 1,0 -1.9,0M481.85,337.4a0.95,0.95 0 1,0 1.9,0a0.95,0.95 0 1,0 -1.9,0M481.85,346.3a0.95,0.95 0 1,0 1.9,0a0.95,0.95 0 1,0 -1.9,0M481.85,355.2a0.95,0.95 0 1,0 1.9,0a0.95,0.95 0 1,0 -1.9,0M481.85,364.1a0.95,0.95 0 1,0 1.9,0a0.95,0.95 0 1,0 -1.9,0M481.85,373a0.95,0.95 0 1,0 1.9,0a0.95,0.95 0 1,0 -1.9,0M481.85,381.9a0.95,0.95 0 1,0 1.9,0a0.95,0.95 0 1,0 -1.9,0M486.3,279.55a0.95,0.95 0 1,0 1.9,0a0.95,0.95 0 1,0 -1.9,0M486.3,288.45a0.95,0.95 0 1,0 1.9,0a0.95,0.95 0 1,0 -1.9,0M486.3,297.35a0.95,0.95 0 1,0 1.9,0a0.95,0.95 0 1,0 -1.9,0M486.3,306.25a0.95,0.95 0 1,0 1.9,0a0.95,0.95 0 1,0 -1.9,0M486.3,315.15a0.95,0.95 0 1,0 1.9,0a0.95,0.95 0 1,0 -1.9,0M486.3,324.05a0.95,0.95 0 1,0 1.9,0a0.95,0.95 0 1,0 -1.9,0M486.3,332.95a0.95,0.95 0 1,0 1.9,0a0.95,0.95 0 1,0 -1.9,0M486.3,341.85a0.95,0.95 0 1,0 1.9,0a0.95,0.95 0 1,0 -1.9,0M486.3,350.75a0.95,0.95 0 1,0 1.9,0a0.95,0.95 0 1,0 -1.9,0M486.3,359.65a0.95,0.95 0 1,0 1.9,0a0.95,0.95 0 1,0 -1.9,0M486.3,368.55a0.95,0.95 0 1,0 1.9,0a0.95,0.95 0 1,0 -1.9,0M486.3,377.45a0.95,0.95 0 1,0 1.9,0a0.95,0.95 0 1,0 -1.9,0M486.3,386.35a0.95,0.95 0 1,0 1.9,0a0.95,0.95 0 1,0 -1.9,0" fill="#111"/>
<text x="384.18" y="231.75" transform="rotate(0.04 384.18 231.75)" font-size="6.5" text-anchor="middle" font-weight="bold" font-family="Liberation Sans, sans-serif" fill="#222" stroke="#222" stroke-width="0.5" letter-spacing="1.75">***</text>
<text x="478.18" y="231.75" transform="rotate(0.04 478.18 231.75)" font-size="6.5" text-anchor="middle" font-weight="bold" font-family="Liberation Sans, sans-serif" fill="#222" stroke="#222" stroke-width="0.5" letter-spacing="1.75">***</text>
<text x="335.9" y="404.3" transform="rotate(0.04 335.9 404.3)" font-size="10.9" text-anchor="start" font-weight="bold" font-family="Liberation Sans, sans-serif" stroke="#000" stroke-width="0.55" textLength="28.1" lengthAdjust="spacingAndGlyphs" >sham</text>
<text x="335.9" y="421.8" transform="rotate(0.04 335.9 421.8)" font-size="10.9" text-anchor="start" font-weight="bold" font-family="Liberation Sans, sans-serif" stroke="#000" stroke-width="0.55" textLength="39.8" lengthAdjust="spacingAndGlyphs" >surgery</text>
<polyline points="383.8,403.5 383.8,413.9 486,413.9 486,403.5" fill="none" stroke="#333" stroke-width="1.2"/>
<text x="380.1" y="431.6" transform="rotate(0.04 380.1 431.6)" font-size="10.9" text-anchor="start" font-weight="bold" font-family="Liberation Sans, sans-serif" stroke="#000" stroke-width="0.55" textLength="108.3" lengthAdjust="spacingAndGlyphs" >5 h after reperfusion</text>
<text transform="translate(283.2,328.8) rotate(-90)" font-size="9.9" text-anchor="middle" font-family="Liberation Serif, serif" fill="#222" textLength="42.8" lengthAdjust="spacingAndGlyphs">TF activity</text>
<text transform="translate(303.5,329.2) rotate(-90)" font-size="9.9" text-anchor="middle" font-family="Liberation Serif, serif" fill="#222" textLength="52.8" lengthAdjust="spacingAndGlyphs">arbitary units</text>
<text x="0.5" y="465.9" transform="rotate(0.04 0.5 465.9)" font-size="26.7" text-anchor="start" font-weight="bold" font-family="Liberation Sans, sans-serif" stroke="#000" stroke-width="0.7" textLength="16.3" lengthAdjust="spacingAndGlyphs" >E</text>
<line x1="71.8" y1="448.6" x2="71.8" y2="606" stroke="#444" stroke-width="1.1"/>
<line x1="71.3" y1="605.4" x2="229" y2="605.4" stroke="#444" stroke-width="1.6"/>
<line x1="65.5" y1="479.6" x2="71.8" y2="479.6" stroke="#444" stroke-width="0.9"/>
<text x="63" y="482.5" transform="rotate(0.04 63 482.5)" font-size="13.6" text-anchor="end" font-weight="bold" font-family="Liberation Sans, sans-serif" stroke="#000" stroke-width="0.75"  >4</text>
<line x1="65.5" y1="543" x2="71.8" y2="543" stroke="#444" stroke-width="0.9"/>
<text x="63" y="545.9" transform="rotate(0.04 63 545.9)" font-size="13.6" text-anchor="end" font-weight="bold" font-family="Liberation Sans, sans-serif" stroke="#000" stroke-width="0.75"  >2</text>
<line x1="65.5" y1="605.4" x2="71.8" y2="605.4" stroke="#444" stroke-width="0.9"/>
<text x="63" y="608.3" transform="rotate(0.04 63 608.3)" font-size="13.6" text-anchor="end" font-weight="bold" font-family="Liberation Sans, sans-serif" stroke="#000" stroke-width="0.75"  >0</text>
<line x1="91.15" y1="579.2" x2="91.15" y2="573.1" stroke="#222" stroke-width="1.1"/>
<line x1="87.3" y1="573.1" x2="95" y2="573.1" stroke="#222" stroke-width="1.2"/>
<rect x="81.1" y="579.2" width="20.1" height="26.2" fill="#0a0a0a"/>
<line x1="130.6" y1="508.5" x2="130.6" y2="501.9" stroke="#222" stroke-width="1.1"/>
<line x1="126.75" y1="501.9" x2="134.45" y2="501.9" stroke="#222" stroke-width="1.2"/>
<rect x="120.5" y="508.5" width="20.2" height="96.9" fill="#fff" stroke="#111" stroke-width="1.1"/>
<line x1="169.4" y1="511.7" x2="169.4" y2="508.9" stroke="#222" stroke-width="1.1"/>
<line x1="165.55" y1="508.9" x2="173.25" y2="508.9" stroke="#222" stroke-width="1.2"/>
<rect x="159.4" y="511.7" width="20" height="93.7" fill="#fff" stroke="#111" stroke-width="1.1"/>
<path clip-path="url(#c9)" d="M159.4,514.2H179.4M159.4,518.65H179.4M159.4,523.1H179.4M159.4,527.55H179.4M159.4,532H179.4M159.4,536.45H179.4M159.4,540.9H179.4M159.4,545.35H179.4M159.4,549.8H179.4M159.4,554.25H179.4M159.4,558.7H179.4M159.4,563.15H179.4M159.4,567.6H179.4M159.4,572.05H179.4M159.4,576.5H179.4M159.4,580.95H179.4M159.4,585.4H179.4M159.4,589.85H179.4M159.4,594.3H179.4M159.4,598.75H179.4M159.4,603.2H179.4" stroke="#111" stroke-width="1.2" fill="none"/>
<line x1="208.8" y1="510.4" x2="208.8" y2="504.5" stroke="#222" stroke-width="1.1"/>
<line x1="204.95" y1="504.5" x2="212.65" y2="504.5" stroke="#222" stroke-width="1.2"/>
<rect x="199" y="510.4" width="19.6" height="95" fill="#fff" stroke="#111" stroke-width="1.1"/>
<path clip-path="url(#c10)" d="M98.6,510.4L193.6,605.4M107.5,510.4L202.5,605.4M116.4,510.4L211.4,605.4M125.3,510.4L220.3,605.4M134.2,510.4L229.2,605.4M143.1,510.4L238.1,605.4M152,510.4L247,605.4M160.9,510.4L255.9,605.4M169.8,510.4L264.8,605.4M178.7,510.4L273.7,605.4M187.6,510.4L282.6,605.4M196.5,510.4L291.5,605.4M205.4,510.4L300.4,605.4M214.3,510.4L309.3,605.4M223.2,510.4L318.2,605.4M194.3,510.4L99.3,605.4M203.2,510.4L108.2,605.4M212.1,510.4L117.1,605.4M221,510.4L126,605.4M229.9,510.4L134.9,605.4M238.8,510.4L143.8,605.4M247.7,510.4L152.7,605.4M256.6,510.4L161.6,605.4M265.5,510.4L170.5,605.4M274.4,510.4L179.4,605.4M283.3,510.4L188.3,605.4M292.2,510.4L197.2,605.4M301.1,510.4L206.1,605.4M310,510.4L215,605.4M318.9,510.4L223.9,605.4" stroke="#111" stroke-width="1.05" fill="none"/>
<path clip-path="url(#c10)" d="M198.9,513.75a0.95,0.95 0 1,0 1.9,0a0.95,0.95 0 1,0 -1.9,0M198.9,522.65a0.95,0.95 0 1,0 1.9,0a0.95,0.95 0 1,0 -1.9,0M198.9,531.55a0.95,0.95 0 1,0 1.9,0a0.95,0.95 0 1,0 -1.9,0M198.9,540.45a0.95,0.95 0 1,0 1.9,0a0.95,0.95 0 1,0 -1.9,0M198.9,549.35a0.95,0.95 0 1,0 1.9,0a0.95,0.95 0 1,0 -1.9,0M198.9,558.25a0.95,0.95 0 1,0 1.9,0a0.95,0.95 0 1,0 -1.9,0M198.9,567.15a0.95,0.95 0 1,0 1.9,0a0.95,0.95 0 1,0 -1.9,0M198.9,576.05a0.95,0.95 0 1,0 1.9,0a0.95,0.95 0 1,0 -1.9,0M198.9,584.95a0.95,0.95 0 1,0 1.9,0a0.95,0.95 0 1,0 -1.9,0M198.9,593.85a0.95,0.95 0 1,0 1.9,0a0.95,0.95 0 1,0 -1.9,0M198.9,602.75a0.95,0.95 0 1,0 1.9,0a0.95,0.95 0 1,0 -1.9,0M203.35,518.2a0.95,0.95 0 1,0 1.9,0a0.95,0.95 0 1,0 -1.9,0M203.35,527.1a0.95,0.95 0 1,0 1.9,0a0.95,0.95 0 1,0 -1.9,0M203.35,536a0.95,0.95 0 1,0 1.9,0a0.95,0.95 0 1,0 -1.9,0M203.35,544.9a0.95,0.95 0 1,0 1.9,0a0.95,0.95 0 1,0 -1.9,0M203.35,553.8a0.95,0.95 0 1,0 1.9,0a0.95,0.95 0 1,0 -1.9,0M203.35,562.7a0.95,0.95 0 1,0 1.9,0a0.95,0.95 0 1,0 -1.9,0M203.35,571.6a0.95,0.95 0 1,0 1.9,0a0.95,0.95 0 1,0 -1.9,0M203.35,580.5a0.95,0.95 0 1,0 1.9,0a0.95,0.95 0 1,0 -1.9,0M203.35,589.4a0.95,0.95 0 1,0 1.9,0a0.95,0.95 0 1,0 -1.9,0M203.35,598.3a0.95,0.95 0 1,0 1.9,0a0.95,0.95 0 1,0 -1.9,0M207.8,513.75a0.95,0.95 0 1,0 1.9,0a0.95,0.95 0 1,0 -1.9,0M207.8,522.65a0.95,0.95 0 1,0 1.9,0a0.95,0.95 0 1,0 -1.9,0M207.8,531.55a0.95,0.95 0 1,0 1.9,0a0.95,0.95 0 1,0 -1.9,0M207.8,540.45a0.95,0.95 0 1,0 1.9,0a0.95,0.95 0 1,0 -1.9,0M207.8,549.35a0.95,0.95 0 1,0 1.9,0a0.95,0.95 0 1,0 -1.9,0M207.8,558.25a0.95,0.95 0 1,0 1.9,0a0.95,0.95 0 1,0 -1.9,0M207.8,567.15a0.95,0.95 0 1,0 1.9,0a0.95,0.95 0 1,0 -1.9,0M207.8,576.05a0.95,0.95 0 1,0 1.9,0a0.95,0.95 0 1,0 -1.9,0M207.8,584.95a0.95,0.95 0 1,0 1.9,0a0.95,0.95 0 1,0 -1.9,0M207.8,593.85a0.95,0.95 0 1,0 1.9,0a0.95,0.95 0 1,0 -1.9,0M207.8,602.75a0.95,0.95 0 1,0 1.9,0a0.95,0.95 0 1,0 -1.9,0M212.25,518.2a0.95,0.95 0 1,0 1.9,0a0.95,0.95 0 1,0 -1.9,0M212.25,527.1a0.95,0.95 0 1,0 1.9,0a0.95,0.95 0 1,0 -1.9,0M212.25,536a0.95,0.95 0 1,0 1.9,0a0.95,0.95 0 1,0 -1.9,0M212.25,544.9a0.95,0.95 0 1,0 1.9,0a0.95,0.95 0 1,0 -1.9,0M212.25,553.8a0.95,0.95 0 1,0 1.9,0a0.95,0.95 0 1,0 -1.9,0M212.25,562.7a0.95,0.95 0 1,0 1.9,0a0.95,0.95 0 1,0 -1.9,0M212.25,571.6a0.95,0.95 0 1,0 1.9,0a0.95,0.95 0 1,0 -1.9,0M212.25,580.5a0.95,0.95 0 1,0 1.9,0a0.95,0.95 0 1,0 -1.9,0M212.25,589.4a0.95,0.95 0 1,0 1.9,0a0.95,0.95 0 1,0 -1.9,0M212.25,598.3a0.95,0.95 0 1,0 1.9,0a0.95,0.95 0 1,0 -1.9,0M216.7,513.75a0.95,0.95 0 1,0 1.9,0a0.95,0.95 0 1,0 -1.9,0M216.7,522.65a0.95,0.95 0 1,0 1.9,0a0.95,0.95 0 1,0 -1.9,0M216.7,531.55a0.95,0.95 0 1,0 1.9,0a0.95,0.95 0 1,0 -1.9,0M216.7,540.45a0.95,0.95 0 1,0 1.9,0a0.95,0.95 0 1,0 -1.9,0M216.7,549.35a0.95,0.95 0 1,0 1.9,0a0.95,0.95 0 1,0 -1.9,0M216.7,558.25a0.95,0.95 0 1,0 1.9,0a0.95,0.95 0 1,0 -1.9,0M216.7,567.15a0.95,0.95 0 1,0 1.9,0a0.95,0.95 0 1,0 -1.9,0M216.7,576.05a0.95,0.95 0 1,0 1.9,0a0.95,0.95 0 1,0 -1.9,0M216.7,584.95a0.95,0.95 0 1,0 1.9,0a0.95,0.95 0 1,0 -1.9,0M216.7,593.85a0.95,0.95 0 1,0 1.9,0a0.95,0.95 0 1,0 -1.9,0M216.7,602.75a0.95,0.95 0 1,0 1.9,0a0.95,0.95 0 1,0 -1.9,0" fill="#111"/>
<text x="131.07" y="488.25" transform="rotate(0.04 131.07 488.25)" font-size="6.5" text-anchor="middle" font-weight="bold" font-family="Liberation Sans, sans-serif" fill="#222" stroke="#222" stroke-width="0.5" letter-spacing="1.75">**</text>
<text x="169.47" y="488.25" transform="rotate(0.04 169.47 488.25)" font-size="6.5" text-anchor="middle" font-weight="bold" font-family="Liberation Sans, sans-serif" fill="#222" stroke="#222" stroke-width="0.5" letter-spacing="1.75">**</text>
<text x="210.38" y="488.25" transform="rotate(0.04 210.38 488.25)" font-size="6.5" text-anchor="middle" font-weight="bold" font-family="Liberation Sans, sans-serif" fill="#222" stroke="#222" stroke-width="0.5" letter-spacing="1.75">**</text>
<text x="71.9" y="627.6" transform="rotate(0.04 71.9 627.6)" font-size="10.9" text-anchor="start" font-weight="bold" font-family="Liberation Sans, sans-serif" stroke="#000" stroke-width="0.55" textLength="28.2" lengthAdjust="spacingAndGlyphs" >sham</text>
<text x="71.9" y="645.1" transform="rotate(0.04 71.9 645.1)" font-size="10.9" text-anchor="start" font-weight="bold" font-family="Liberation Sans, sans-serif" stroke="#000" stroke-width="0.55" textLength="39.3" lengthAdjust="spacingAndGlyphs" >surgery</text>
<polyline points="128.5,624.2 128.5,638 214.7,638 214.7,624.2" fill="none" stroke="#333" stroke-width="1.2"/>
<text x="115.8" y="658" transform="rotate(0.04 115.8 658)" font-size="10.9" text-anchor="start" font-weight="bold" font-family="Liberation Sans, sans-serif" stroke="#000" stroke-width="0.55" textLength="114.6" lengthAdjust="spacingAndGlyphs" >24 h after reperfusion</text>
<text transform="translate(19.2,545.4) rotate(-90)" font-size="9.9" text-anchor="middle" font-family="Liberation Serif, serif" fill="#222" textLength="43" lengthAdjust="spacingAndGlyphs">TF mRNA</text>
<text transform="translate(39.2,545.6) rotate(-90)" font-size="9.9" text-anchor="middle" font-family="Liberation Serif, serif" fill="#222" textLength="55.8" lengthAdjust="spacingAndGlyphs">Arbitary units</text>
<text x="92.2" y="696.8" transform="rotate(0.04 92.2 696.8)" font-size="10.9" text-anchor="middle" font-weight="bold" font-family="Liberation Sans, sans-serif" stroke="#000" stroke-width="0.55"  >WT</text>
<text x="129.2" y="696.8" transform="rotate(0.04 129.2 696.8)" font-size="10.9" text-anchor="middle" font-weight="bold" font-family="Liberation Sans, sans-serif" stroke="#000" stroke-width="0.55"  >WT</text>
<text x="169.6" y="696.8" transform="rotate(0.04 169.6 696.8)" font-size="10.9" text-anchor="middle" font-weight="bold" font-family="Liberation Sans, sans-serif" stroke="#000" stroke-width="0.55"  >WT</text>
<text x="207.6" y="696.8" transform="rotate(0.04 207.6 696.8)" font-size="10.9" text-anchor="middle" font-weight="bold" font-family="Liberation Sans, sans-serif" stroke="#000" stroke-width="0.55" textLength="32.2" lengthAdjust="spacingAndGlyphs" >PAR-1</text>
<text x="229.1" y="689.9" transform="rotate(0.04 229.1 689.9)" font-size="10" text-anchor="middle" font-weight="bold" font-family="Liberation Sans, sans-serif" stroke="#000" stroke-width="0.55"  >-/-</text>
<text x="169.8" y="714.7" transform="rotate(0.04 169.8 714.7)" font-size="10.9" text-anchor="middle" font-weight="bold" font-family="Liberation Sans, sans-serif" stroke="#000" stroke-width="0.55" textLength="36.6" lengthAdjust="spacingAndGlyphs" >hirudin</text>
<text x="169.6" y="732.4" transform="rotate(0.04 169.6 732.4)" font-size="10.9" text-anchor="middle" font-weight="bold" font-family="Liberation Sans, sans-serif" stroke="#000" stroke-width="0.55" textLength="36.2" lengthAdjust="spacingAndGlyphs" >treated</text>
<text x="274.5" y="465.9" transform="rotate(0.04 274.5 465.9)" font-size="26.7" text-anchor="start" font-weight="bold" font-family="Liberation Sans, sans-serif" stroke="#000" stroke-width="0.7" textLength="14.6" lengthAdjust="spacingAndGlyphs" >F</text>
<line x1="338.7" y1="449.3" x2="338.7" y2="606" stroke="#111" stroke-width="1.4"/>
<line x1="338.2" y1="605.4" x2="496" y2="605.4" stroke="#555" stroke-width="1.4"/>
<line x1="332.4" y1="481.7" x2="338.7" y2="481.7" stroke="#888" stroke-width="0.9"/>
<text x="328.5" y="484.6" transform="rotate(0.04 328.5 484.6)" font-size="13.6" text-anchor="end" font-weight="bold" font-family="Liberation Sans, sans-serif" stroke="#000" stroke-width="0.75"  >75</text>
<line x1="332.4" y1="523.2" x2="338.7" y2="523.2" stroke="#888" stroke-width="0.9"/>
<text x="328.5" y="526.1" transform="rotate(0.04 328.5 526.1)" font-size="13.6" text-anchor="end" font-weight="bold" font-family="Liberation Sans, sans-serif" stroke="#000" stroke-width="0.75"  >50</text>
<line x1="332.4" y1="563.9" x2="338.7" y2="563.9" stroke="#888" stroke-width="0.9"/>
<text x="328.5" y="566.8" transform="rotate(0.04 328.5 566.8)" font-size="13.6" text-anchor="end" font-weight="bold" font-family="Liberation Sans, sans-serif" stroke="#000" stroke-width="0.75"  >25</text>
<line x1="332.4" y1="605.4" x2="338.7" y2="605.4" stroke="#888" stroke-width="0.9"/>
<text x="328.5" y="608.3" transform="rotate(0.04 328.5 608.3)" font-size="13.6" text-anchor="end" font-weight="bold" font-family="Liberation Sans, sans-serif" stroke="#000" stroke-width="0.75"  >0</text>
<line x1="354.05" y1="593.1" x2="354.05" y2="591.8" stroke="#222" stroke-width="1.1"/>
<line x1="350.2" y1="591.8" x2="357.9" y2="591.8" stroke="#222" stroke-width="1.2"/>
<rect x="345.8" y="593.1" width="16.5" height="12.3" fill="#0a0a0a"/>
<line x1="385.55" y1="489.6" x2="385.55" y2="478.1" stroke="#222" stroke-width="1.1"/>
<line x1="381.7" y1="478.1" x2="389.4" y2="478.1" stroke="#222" stroke-width="1.2"/>
<rect x="377.5" y="489.6" width="16.1" height="115.8" fill="#fff" stroke="#111" stroke-width="1.1"/>
<line x1="409" y1="604.2" x2="425" y2="604.2" stroke="#111" stroke-width="1.5"/>
<line x1="448" y1="552.9" x2="448" y2="546.5" stroke="#222" stroke-width="1.1"/>
<line x1="444.15" y1="546.5" x2="451.85" y2="546.5" stroke="#222" stroke-width="1.2"/>
<rect x="440.3" y="552.9" width="15.4" height="52.5" fill="#fff" stroke="#111" stroke-width="1.1"/>
<path clip-path="url(#c11)" d="M440.3,554.1H455.7M440.3,558.55H455.7M440.3,563H455.7M440.3,567.45H455.7M440.3,571.9H455.7M440.3,576.35H455.7M440.3,580.8H455.7M440.3,585.25H455.7M440.3,589.7H455.7M440.3,594.15H455.7M440.3,598.6H455.7M440.3,603.05H455.7" stroke="#111" stroke-width="1.2" fill="none"/>
<line x1="479.6" y1="475.6" x2="479.6" y2="458.1" stroke="#222" stroke-width="1.1"/>
<line x1="475.75" y1="458.1" x2="483.45" y2="458.1" stroke="#222" stroke-width="1.2"/>
<rect x="471.4" y="475.6" width="16.4" height="129.8" fill="#fff" stroke="#111" stroke-width="1.1"/>
<path clip-path="url(#c12)" d="M337.5,475.6L467.3,605.4M346.4,475.6L476.2,605.4M355.3,475.6L485.1,605.4M364.2,475.6L494,605.4M373.1,475.6L502.9,605.4M382,475.6L511.8,605.4M390.9,475.6L520.7,605.4M399.8,475.6L529.6,605.4M408.7,475.6L538.5,605.4M417.6,475.6L547.4,605.4M426.5,475.6L556.3,605.4M435.4,475.6L565.2,605.4M444.3,475.6L574.1,605.4M453.2,475.6L583,605.4M462.1,475.6L591.9,605.4M471,475.6L600.8,605.4M479.9,475.6L609.7,605.4M488.8,475.6L618.6,605.4M467.9,475.6L338.1,605.4M476.8,475.6L347,605.4M485.7,475.6L355.9,605.4M494.6,475.6L364.8,605.4M503.5,475.6L373.7,605.4M512.4,475.6L382.6,605.4M521.3,475.6L391.5,605.4M530.2,475.6L400.4,605.4M539.1,475.6L409.3,605.4M548,475.6L418.2,605.4M556.9,475.6L427.1,605.4M565.8,475.6L436,605.4M574.7,475.6L444.9,605.4M583.6,475.6L453.8,605.4M592.5,475.6L462.7,605.4M601.4,475.6L471.6,605.4M610.3,475.6L480.5,605.4M619.2,475.6L489.4,605.4" stroke="#111" stroke-width="1.05" fill="none"/>
<path clip-path="url(#c12)" d="M472.95,478.5a0.95,0.95 0 1,0 1.9,0a0.95,0.95 0 1,0 -1.9,0M472.95,487.4a0.95,0.95 0 1,0 1.9,0a0.95,0.95 0 1,0 -1.9,0M472.95,496.3a0.95,0.95 0 1,0 1.9,0a0.95,0.95 0 1,0 -1.9,0M472.95,505.2a0.95,0.95 0 1,0 1.9,0a0.95,0.95 0 1,0 -1.9,0M472.95,514.1a0.95,0.95 0 1,0 1.9,0a0.95,0.95 0 1,0 -1.9,0M472.95,523a0.95,0.95 0 1,0 1.9,0a0.95,0.95 0 1,0 -1.9,0M472.95,531.9a0.95,0.95 0 1,0 1.9,0a0.95,0.95 0 1,0 -1.9,0M472.95,540.8a0.95,0.95 0 1,0 1.9,0a0.95,0.95 0 1,0 -1.9,0M472.95,549.7a0.95,0.95 0 1,0 1.9,0a0.95,0.95 0 1,0 -1.9,0M472.95,558.6a0.95,0.95 0 1,0 1.9,0a0.95,0.95 0 1,0 -1.9,0M472.95,567.5a0.95,0.95 0 1,0 1.9,0a0.95,0.95 0 1,0 -1.9,0M472.95,576.4a0.95,0.95 0 1,0 1.9,0a0.95,0.95 0 1,0 -1.9,0M472.95,585.3a0.95,0.95 0 1,0 1.9,0a0.95,0.95 0 1,0 -1.9,0M472.95,594.2a0.95,0.95 0 1,0 1.9,0a0.95,0.95 0 1,0 -1.9,0M472.95,603.1a0.95,0.95 0 1,0 1.9,0a0.95,0.95 0 1,0 -1.9,0M477.4,482.95a0.95,0.95 0 1,0 1.9,0a0.95,0.95 0 1,0 -1.9,0M477.4,491.85a0.95,0.95 0 1,0 1.9,0a0.95,0.95 0 1,0 -1.9,0M477.4,500.75a0.95,0.95 0 1,0 1.9,0a0.95,0.95 0 1,0 -1.9,0M477.4,509.65a0.95,0.95 0 1,0 1.9,0a0.95,0.95 0 1,0 -1.9,0M477.4,518.55a0.95,0.95 0 1,0 1.9,0a0.95,0.95 0 1,0 -1.9,0M477.4,527.45a0.95,0.95 0 1,0 1.9,0a0.95,0.95 0 1,0 -1.9,0M477.4,536.35a0.95,0.95 0 1,0 1.9,0a0.95,0.95 0 1,0 -1.9,0M477.4,545.25a0.95,0.95 0 1,0 1.9,0a0.95,0.95 0 1,0 -1.9,0M477.4,554.15a0.95,0.95 0 1,0 1.9,0a0.95,0.95 0 1,0 -1.9,0M477.4,563.05a0.95,0.95 0 1,0 1.9,0a0.95,0.95 0 1,0 -1.9,0M477.4,571.95a0.95,0.95 0 1,0 1.9,0a0.95,0.95 0 1,0 -1.9,0M477.4,580.85a0.95,0.95 0 1,0 1.9,0a0.95,0.95 0 1,0 -1.9,0M477.4,589.75a0.95,0.95 0 1,0 1.9,0a0.95,0.95 0 1,0 -1.9,0M477.4,598.65a0.95,0.95 0 1,0 1.9,0a0.95,0.95 0 1,0 -1.9,0M481.85,478.5a0.95,0.95 0 1,0 1.9,0a0.95,0.95 0 1,0 -1.9,0M481.85,487.4a0.95,0.95 0 1,0 1.9,0a0.95,0.95 0 1,0 -1.9,0M481.85,496.3a0.95,0.95 0 1,0 1.9,0a0.95,0.95 0 1,0 -1.9,0M481.85,505.2a0.95,0.95 0 1,0 1.9,0a0.95,0.95 0 1,0 -1.9,0M481.85,514.1a0.95,0.95 0 1,0 1.9,0a0.95,0.95 0 1,0 -1.9,0M481.85,523a0.95,0.95 0 1,0 1.9,0a0.95,0.95 0 1,0 -1.9,0M481.85,531.9a0.95,0.95 0 1,0 1.9,0a0.95,0.95 0 1,0 -1.9,0M481.85,540.8a0.95,0.95 0 1,0 1.9,0a0.95,0.95 0 1,0 -1.9,0M481.85,549.7a0.95,0.95 0 1,0 1.9,0a0.95,0.95 0 1,0 -1.9,0M481.85,558.6a0.95,0.95 0 1,0 1.9,0a0.95,0.95 0 1,0 -1.9,0M481.85,567.5a0.95,0.95 0 1,0 1.9,0a0.95,0.95 0 1,0 -1.9,0M481.85,576.4a0.95,0.95 0 1,0 1.9,0a0.95,0.95 0 1,0 -1.9,0M481.85,585.3a0.95,0.95 0 1,0 1.9,0a0.95,0.95 0 1,0 -1.9,0M481.85,594.2a0.95,0.95 0 1,0 1.9,0a0.95,0.95 0 1,0 -1.9,0M481.85,603.1a0.95,0.95 0 1,0 1.9,0a0.95,0.95 0 1,0 -1.9,0M486.3,482.95a0.95,0.95 0 1,0 1.9,0a0.95,0.95 0 1,0 -1.9,0M486.3,491.85a0.95,0.95 0 1,0 1.9,0a0.95,0.95 0 1,0 -1.9,0M486.3,500.75a0.95,0.95 0 1,0 1.9,0a0.95,0.95 0 1,0 -1.9,0M486.3,509.65a0.95,0.95 0 1,0 1.9,0a0.95,0.95 0 1,0 -1.9,0M486.3,518.55a0.95,0.95 0 1,0 1.9,0a0.95,0.95 0 1,0 -1.9,0M486.3,527.45a0.95,0.95 0 1,0 1.9,0a0.95,0.95 0 1,0 -1.9,0M486.3,536.35a0.95,0.95 0 1,0 1.9,0a0.95,0.95 0 1,0 -1.9,0M486.3,545.25a0.95,0.95 0 1,0 1.9,0a0.95,0.95 0 1,0 -1.9,0M486.3,554.15a0.95,0.95 0 1,0 1.9,0a0.95,0.95 0 1,0 -1.9,0M486.3,563.05a0.95,0.95 0 1,0 1.9,0a0.95,0.95 0 1,0 -1.9,0M486.3,571.95a0.95,0.95 0 1,0 1.9,0a0.95,0.95 0 1,0 -1.9,0M486.3,580.85a0.95,0.95 0 1,0 1.9,0a0.95,0.95 0 1,0 -1.9,0M486.3,589.75a0.95,0.95 0 1,0 1.9,0a0.95,0.95 0 1,0 -1.9,0M486.3,598.65a0.95,0.95 0 1,0 1.9,0a0.95,0.95 0 1,0 -1.9,0" fill="#111"/>
<text x="383.93" y="473.65" transform="rotate(0.04 383.93 473.65)" font-size="6.5" text-anchor="middle" font-weight="bold" font-family="Liberation Sans, sans-serif" fill="#222" stroke="#222" stroke-width="0.5" letter-spacing="1.75">**</text>
<text x="478.18" y="451.15" transform="rotate(0.04 478.18 451.15)" font-size="6.5" text-anchor="middle" font-weight="bold" font-family="Liberation Sans, sans-serif" fill="#222" stroke="#222" stroke-width="0.5" letter-spacing="1.75">**</text>
<text x="336" y="627.6" transform="rotate(0.04 336 627.6)" font-size="10.9" text-anchor="start" font-weight="bold" font-family="Liberation Sans, sans-serif" stroke="#000" stroke-width="0.55" textLength="28" lengthAdjust="spacingAndGlyphs" >sham</text>
<text x="336" y="645.4" transform="rotate(0.04 336 645.4)" font-size="10.9" text-anchor="start" font-weight="bold" font-family="Liberation Sans, sans-serif" stroke="#000" stroke-width="0.55" textLength="39.9" lengthAdjust="spacingAndGlyphs" >surgery</text>
<polyline points="382,626.7 382,638.5 482.3,638.5 482.3,626.7" fill="none" stroke="#333" stroke-width="1.2"/>
<text x="378.6" y="656.9" transform="rotate(0.04 378.6 656.9)" font-size="10.9" text-anchor="start" font-weight="bold" font-family="Liberation Sans, sans-serif" stroke="#000" stroke-width="0.55" textLength="115" lengthAdjust="spacingAndGlyphs" >24 h after reperfusion</text>
<text transform="translate(283.2,543.3) rotate(-90)" font-size="9.9" text-anchor="middle" font-family="Liberation Serif, serif" fill="#222" textLength="44" lengthAdjust="spacingAndGlyphs">TF activity</text>
<text transform="translate(303.5,543.3) rotate(-90)" font-size="9.9" text-anchor="middle" font-family="Liberation Serif, serif" fill="#222" textLength="53.4" lengthAdjust="spacingAndGlyphs">arbitary units</text>
<text x="352.5" y="695.7" transform="rotate(0.04 352.5 695.7)" font-size="10.9" text-anchor="middle" font-weight="bold" font-family="Liberation Sans, sans-serif" stroke="#000" stroke-width="0.55"  >WT</text>
<text x="386" y="695.7" transform="rotate(0.04 386 695.7)" font-size="10.9" text-anchor="middle" font-weight="bold" font-family="Liberation Sans, sans-serif" stroke="#000" stroke-width="0.55"  >WT</text>
<text x="418.8" y="695.7" transform="rotate(0.04 418.8 695.7)" font-size="10.9" text-anchor="middle" font-weight="bold" font-family="Liberation Sans, sans-serif" stroke="#000" stroke-width="0.55" textLength="21.4" lengthAdjust="spacingAndGlyphs" >Low</text>
<text x="453.1" y="695.7" transform="rotate(0.04 453.1 695.7)" font-size="10.9" text-anchor="middle" font-weight="bold" font-family="Liberation Sans, sans-serif" stroke="#000" stroke-width="0.55"  >WT</text>
<text x="490.3" y="694.4" transform="rotate(0.04 490.3 694.4)" font-size="10.9" text-anchor="middle" font-weight="bold" font-family="Liberation Sans, sans-serif" stroke="#000" stroke-width="0.55" textLength="30.8" lengthAdjust="spacingAndGlyphs" >PAR-1</text>
<text x="512.2" y="687.7" transform="rotate(0.04 512.2 687.7)" font-size="10" text-anchor="middle" font-weight="bold" font-family="Liberation Sans, sans-serif" stroke="#000" stroke-width="0.55"  >-/-</text>
<text x="418.1" y="713.6" transform="rotate(0.04 418.1 713.6)" font-size="10.9" text-anchor="middle" font-weight="bold" font-family="Liberation Sans, sans-serif" stroke="#000" stroke-width="0.55"  >TF</text>
<text x="452.5" y="713.6" transform="rotate(0.04 452.5 713.6)" font-size="10.9" text-anchor="middle" font-weight="bold" font-family="Liberation Sans, sans-serif" stroke="#000" stroke-width="0.55" textLength="35.8" lengthAdjust="spacingAndGlyphs" >hirudin</text>
<text x="452.5" y="731.5" transform="rotate(0.04 452.5 731.5)" font-size="10.9" text-anchor="middle" font-weight="bold" font-family="Liberation Sans, sans-serif" stroke="#000" stroke-width="0.55" textLength="35.8" lengthAdjust="spacingAndGlyphs" >treated</text>
</g>
</svg>
</body></html>
